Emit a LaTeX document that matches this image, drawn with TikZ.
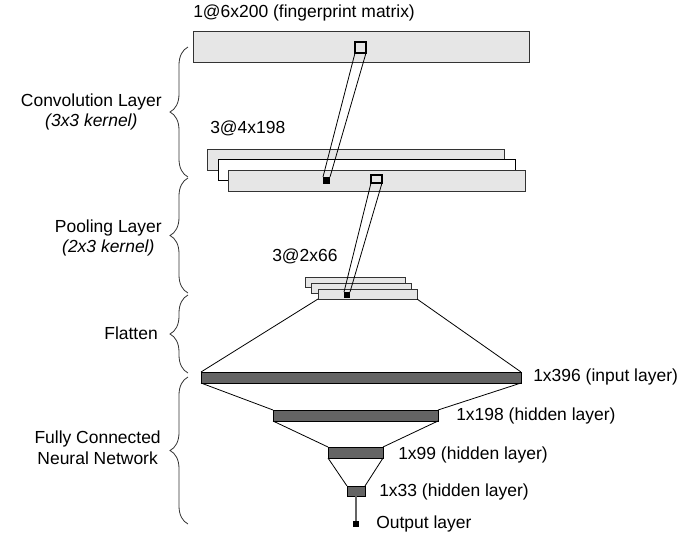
\documentclass[tikz,border=0pt]{standalone}
\usepackage{fontspec}
\setmainfont{Liberation Sans}
\usetikzlibrary{fit,decorations.pathreplacing}
\definecolor{lightbar}{HTML}{E6E6E6}
\definecolor{darkbar}{HTML}{646464}
\definecolor{edge}{HTML}{333333}
\begin{document}
\begin{tikzpicture}[x=0.75pt,y=-0.75pt,
  lbl/.style={font=\fontsize{13.1}{15.7}\selectfont, inner sep=0pt},
  side/.style={lbl, align=center, anchor=east},
  lightbox/.style={draw=edge, fill=lightbar, line width=0.75pt, inner sep=0pt, outer sep=0pt},
  whitebox/.style={draw=black, fill=white, line width=0.75pt, inner sep=0pt, outer sep=0pt},
  darkbox/.style={draw=black, fill=darkbar, line width=0.75pt, inner sep=0pt, outer sep=0pt},
  kernel/.style={draw=black, fill=lightbar, line width=1.5pt, inner sep=0pt, outer sep=0pt},
  dot/.style={fill=black, inner sep=0pt, outer sep=0pt},
  wire/.style={draw=black, line width=0.6pt},
  bracestyle/.style={draw=black!80, line width=0.6pt, decorate, decoration={brace, amplitude=13.5pt, aspect=0.5}}
]
\useasboundingbox (0,0) rectangle (700,537);

% input matrix
\node[lightbox, fit={(193,31) (529,62)}] (mat) {};
\node[kernel, fit={(355,42) (366,53)}] (k1) {};
\node[lbl, anchor=west] (tmat) at (193,13) {1@6x200 (fingerprint matrix)};

% convolution maps
\node[lightbox, fit={(207,149) (504,170)}] (c1) {};
\node[whitebox, fit={(218,159) (515,180)}] (c2) {};
\node[lightbox, fit={(228,170) (525,191)}] (c3) {};
\node[dot, fit={(323,177) (330,184)}] (cd) {};
\node[draw=black, fill=lightbar, line width=1.1pt, inner sep=0pt, outer sep=0pt, fit={(371,175) (382,183)}] (k2) {};
\node[lbl, anchor=west] (tconv) at (210,128) {3@4x198};

% pooling maps
\node[lightbox, fit={(305,277) (405,287)}] (p1) {};
\node[lightbox, fit={(311,283) (411,293)}] (p2) {};
\node[lightbox, fit={(318,289) (417,299)}] (p3) {};
\node[dot, fit={(344,292) (350,298)}] (pd) {};
\node[lbl, anchor=west] (tpool) at (272,256) {3@2x66};

% dense layers
\node[darkbox, fit={(201,372) (521,383)}] (inl) {};
\node[darkbox, fit={(273,410) (438,421)}] (h1) {};
\node[darkbox, fit={(328,447) (383,458)}] (h2) {};
\node[darkbox, fit={(347,486) (365,496)}] (h3) {};
\node[dot, fit={(353,521) (359,527)}] (outd) {};

\node[lbl, anchor=west] (tin) at (533,377) {1x396 (input layer)};
\node[lbl, anchor=west] (th1) at (456,416) {1x198 (hidden layer)};
\node[lbl, anchor=west] (th2) at (398,455) {1x99 (hidden layer)};
\node[lbl, anchor=west] (th3) at (379,492) {1x33 (hidden layer)};
\node[lbl, anchor=west] (tout) at (376,524) {Output layer};

% connectors
\draw[wire] (k1.south west) -- (cd.north west);
\draw[wire] (k1.south east) -- (cd.north east);
\draw[wire] (k2.south west) -- (pd.north west);
\draw[wire] (k2.south east) -- (pd.north east);
\draw[wire] (p3.south west) -- (inl.north west);
\draw[wire] (p3.south east) -- (inl.north east);
\draw[wire] (inl.south west) -- (h1.north west);
\draw[wire] (inl.south east) -- (h1.north east);
\draw[wire] (h1.south west) -- (h2.north west);
\draw[wire] (h1.south east) -- (h2.north east);
\draw[wire] (h2.south west) -- (h3.north west);
\draw[wire] (h2.south east) -- (h3.north east);
\draw[draw=darkbar, line width=1pt] (h3.south) -- (outd.north);

% braces
\coordinate (b1t) at (188,47);  \coordinate (b1b) at (188,177);
\coordinate (b2t) at (188,178); \coordinate (b2b) at (188,293);
\coordinate (b3t) at (188,295); \coordinate (b3b) at (188,373);
\coordinate (b4t) at (188,377); \coordinate (b4b) at (188,524);
\draw[bracestyle] (b1b) -- (b1t);
\draw[bracestyle] (b2b) -- (b2t);
\draw[bracestyle] (b3b) -- (b3t);
\draw[bracestyle] (b4b) -- (b4t);

\node[side] (lconv) at (162,112) {Convolution Layer\\\textit{(3x3 kernel)}};
\node[side] (lpool) at (162,238) {Pooling Layer\\\textit{(2x3 kernel)}};
\node[side] (lflat) at (158,333) {Flatten};
\node[side] (lfc) at (161,448) {Fully Connected\\Neural Network};
\end{tikzpicture}
\end{document}
